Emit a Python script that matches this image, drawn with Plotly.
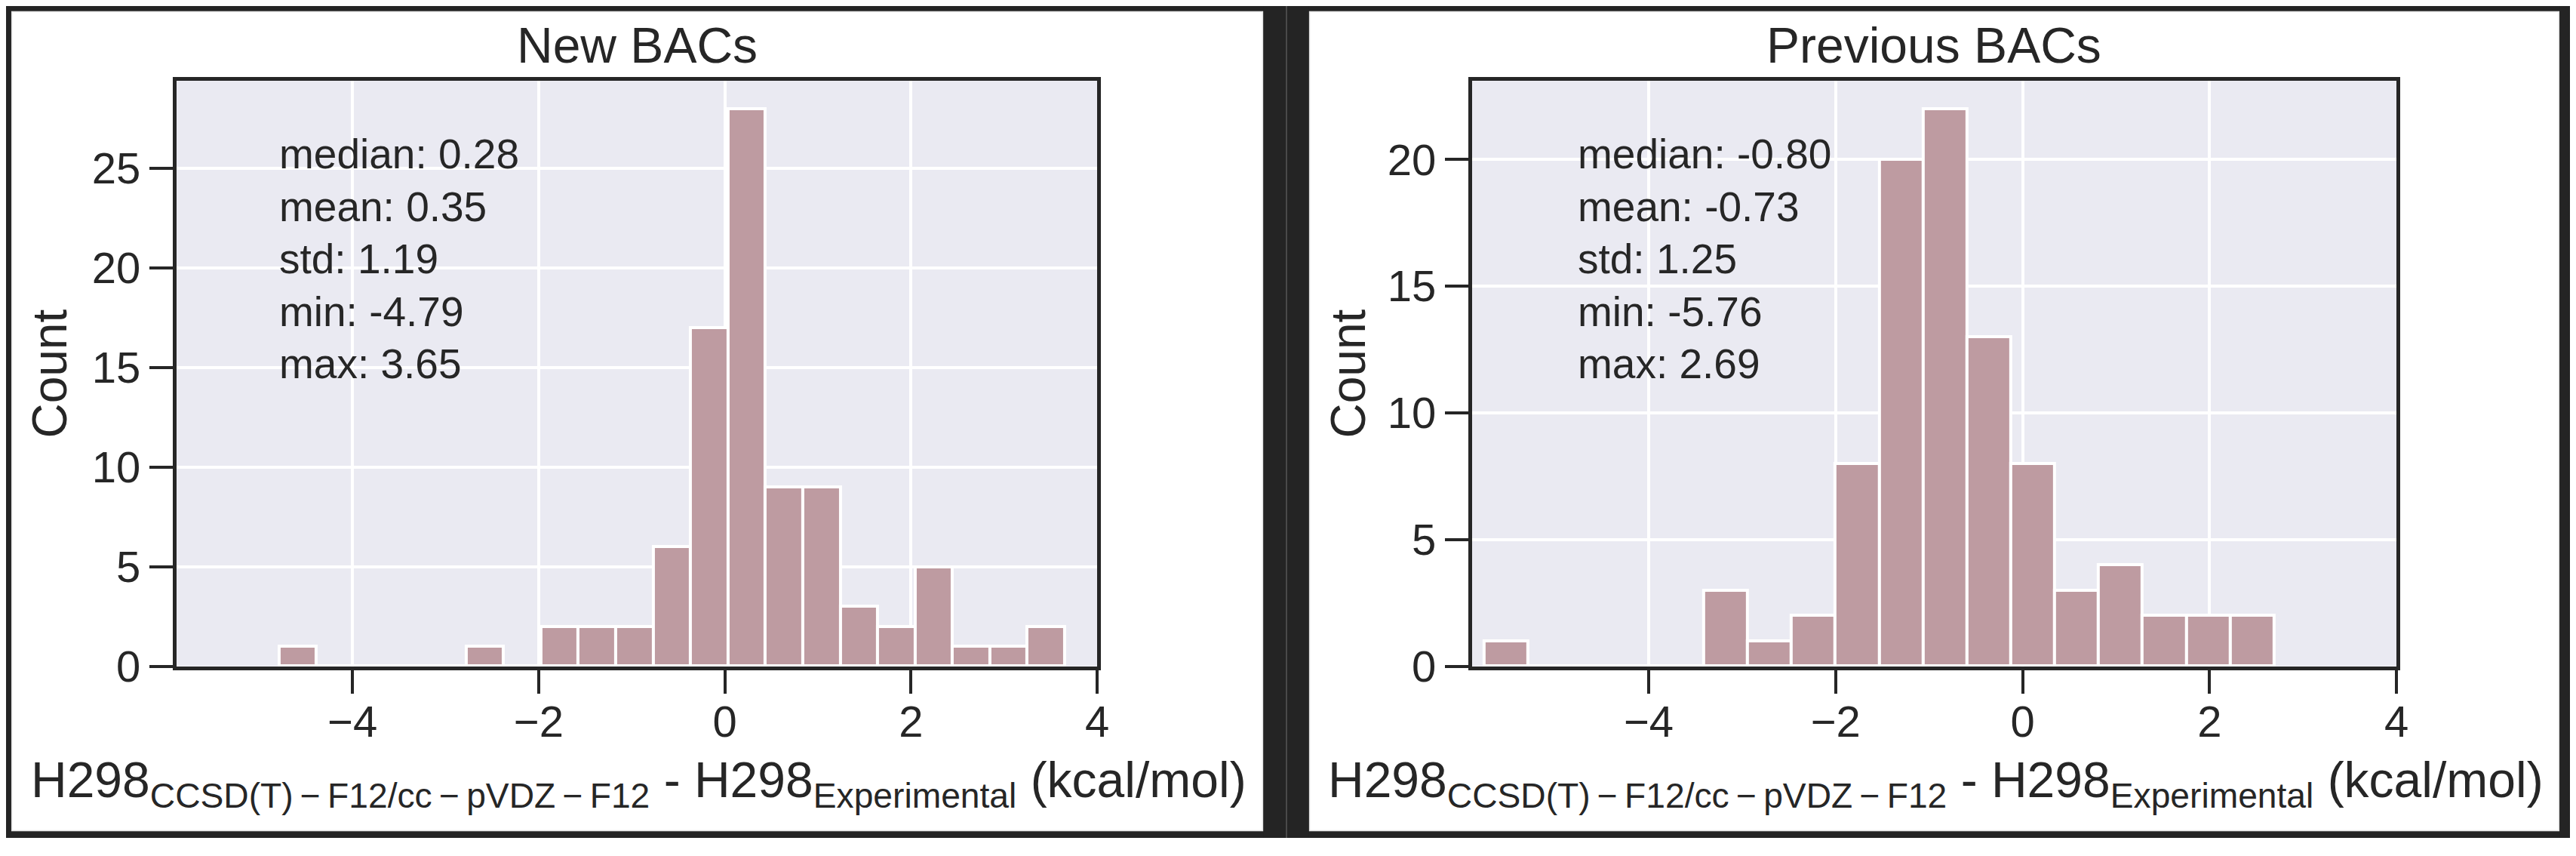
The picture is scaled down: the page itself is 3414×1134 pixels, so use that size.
import numpy as np
import plotly.graph_objects as go

W, H = 3414, 1134

# data
titles = ["New BACs", "Previous BACs"]
new_min, new_max = -4.79, 3.65
new_counts = [1, 0, 0, 0, 0, 1, 0, 2, 2, 2, 6, 17, 28, 9, 9, 3, 2, 5, 1, 1, 2]
prev_min, prev_max = -5.76, 2.69
prev_counts = [1, 0, 0, 0, 0, 3, 1, 2, 8, 20, 22, 13, 8, 3, 4, 2, 2, 2]
stat_names = ["median", "mean", "std", "min", "max"]
new_stats = [0.28, 0.35, 1.19, -4.79, 3.65]
prev_stats = [-0.80, -0.73, 1.25, -5.76, 2.69]
x_ticks = [-4, -2, 0, 2, 4]
new_y_ticks = [0, 5, 10, 15, 20, 25]
prev_y_ticks = [0, 5, 10, 15, 20]

TXT = "#262626"
BAR = "#be9ba1"
FRAME = "#242424"
FONT = "Liberation Sans, Arial, sans-serif"


def fx(px):
    return px / W


def fy(py):
    return 1 - py / H


def bins(lo, hi, counts):
    edges = np.linspace(lo, hi, len(counts) + 1)
    return (edges[:-1] + edges[1:]) / 2, edges[1] - edges[0]


fig = go.Figure()

panels = [
    # counts, lo, hi, stats, yticks, ymax, axis px box, panel px box, stats x, "Count" x
    (new_counts, new_min, new_max, new_stats, new_y_ticks, 29.4,
     (227, 1453), (7, 1674), 362, 58),
    (prev_counts, prev_min, prev_max, prev_stats, prev_y_ticks, 23.1,
     (1952, 3183), (1735, 3400), 2091, 1787),
]

shapes = []
annotations = []
for i, (counts, lo, hi, stats, yticks, ymax, (ax0, ax1), (p0, p1), tx, cx) in enumerate(panels):
    n = "" if i == 0 else str(i + 1)
    centers, width = bins(lo, hi, counts)
    fig.add_trace(go.Bar(
        x=centers, y=counts, width=width,
        marker=dict(color=BAR, line=dict(color="white", width=4)),
        xaxis="x" + n, yaxis="y" + n, showlegend=False,
    ))

    axis_common = dict(
        showline=True, mirror=True, linecolor=TXT, linewidth=5,
        ticks="outside", ticklen=31, tickwidth=4, tickcolor=TXT,
        showgrid=True, gridcolor="white", gridwidth=4, zeroline=False,
        tickfont=dict(family=FONT, size=58, color=TXT),
    )
    fig.update_layout(**{
        "xaxis" + n: dict(axis_common, domain=[fx(ax0), fx(ax1)],
                          range=[-5.89, 4.0], tickvals=x_ticks,
                          ticklabelstandoff=-12, anchor="y" + n),
        "yaxis" + n: dict(axis_common, domain=[fy(900), fy(102)],
                          range=[0, ymax], tickvals=yticks,
                          anchor="x" + n),
    })

    # faint border of each white panel
    shapes.append(dict(type="rect", xref="paper", yref="paper",
                       x0=fx(p0), x1=fx(p1), y0=fy(1125), y1=fy(7),
                       line=dict(color="#e4e4e4", width=3), layer="below"))

    mid = (ax0 + ax1) / 2
    annotations.append(dict(text=titles[i], x=fx(mid), y=fy(54),
                            xref="paper", yref="paper", showarrow=False,
                            xanchor="center", yanchor="middle",
                            font=dict(family=FONT, size=66, color=TXT)))
    annotations.append(dict(text="Count", x=fx(cx), y=fy(501), textangle=-90,
                            xref="paper", yref="paper", showarrow=False,
                            xanchor="center", yanchor="middle",
                            font=dict(family=FONT, size=64, color=TXT)))
    annotations.append(dict(
        text="H298<sub>CCSD(T)\u2009\u2212\u2009F12/cc\u2009\u2212\u2009pVDZ\u2009\u2212\u2009F12</sub>"
             " - H298<sub>Experimental</sub> (kcal/mol)",
        x=fx(mid + 2), y=fy(1060), xref="paper", yref="paper", showarrow=False,
        xanchor="center", yanchor="middle",
        font=dict(family=FONT, size=66, color=TXT)))
    for k, (name, v) in enumerate(zip(stat_names, stats)):
        annotations.append(dict(
            text=f"{name}: {v:.2f}", x=fx(tx), y=fy(202 + 71.5 * k),
            xref="paper", yref="paper", showarrow=False,
            xanchor="left", yanchor="middle",
            font=dict(family=FONT, size=55, color=TXT)))

# dark frame around and between the two white panels
for (x0, x1, y0, y1) in [(0, W, 0, 7), (0, W, 1125, H), (0, 7, 0, H),
                         (3400, W, 0, H), (1674, 1735, 0, H)]:
    shapes.append(dict(type="rect", xref="paper", yref="paper",
                       x0=fx(x0), x1=fx(x1), y0=fy(y1), y1=fy(y0),
                       fillcolor=FRAME, line=dict(width=0), layer="below"))
shapes.append(dict(type="line", xref="paper", yref="paper",
                   x0=fx(1705), x1=fx(1705), y0=0, y1=1,
                   line=dict(color="#4a4a4a", width=2), layer="below"))

fig.update_layout(
    width=W, height=H, autosize=False,
    margin=dict(l=0, r=0, t=0, b=0),
    paper_bgcolor="white", plot_bgcolor="#eaeaf2",
    bargap=0, shapes=shapes, annotations=annotations,
    font=dict(family=FONT, color=TXT),
)

fig.write_html("out.html")
